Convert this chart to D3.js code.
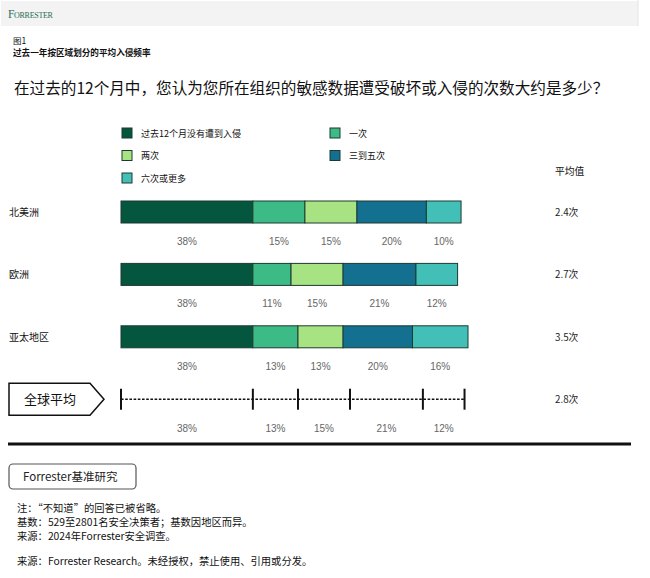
<!DOCTYPE html>
<html><head><meta charset="utf-8">
<script src="https://cdn.jsdelivr.net/npm/d3@7"></script>
<style>
body{margin:0;background:#fff;}
svg{display:block;}
text{font-family:"Noto Sans CJK SC","Noto Sans",sans-serif;}
</style></head>
<body>
<svg id="chart" width="650" height="578"></svg>
<script>
const regions = ["北美洲", "欧洲", "亚太地区", "全球平均"];
const seriesNames = ["过去12个月没有遭到入侵", "一次", "两次", "三到五次", "六次或更多"];
const seriesColors = ["#05563f", "#3dbb86", "#a7e383", "#137091", "#42c0b8"];
const values = [
  [38, 15, 15, 20, 10],
  [38, 11, 15, 21, 12],
  [38, 13, 13, 20, 16],
  [38, 13, 15, 21, 12]
];
const averages = ["2.4次", "2.7次", "3.5次", "2.8次"];
const notes = ["注：“不知道”的回答已被省略。", "基数：529至2801名安全决策者；基数因地区而异。", "来源：2024年Forrester安全调查。"];
const sourceLine = "来源：Forrester Research。未经授权，禁止使用、引用或分发。";

const svg = d3.select("#chart");

// header band
svg.append("rect").attr("x",1).attr("y",1).attr("width",637).attr("height",25).attr("fill","#f3f3f3");
svg.append("line").attr("x1",638).attr("x2",638).attr("y1",0).attr("y2",26).attr("stroke","#e4e4e4");
svg.append("text").attr("x",8).attr("y",17.5)
  .style("font-family","'Liberation Serif',serif").attr("font-size",11.5).attr("fill","#2b6d56")
  .style("font-variant","small-caps").attr("letter-spacing",-0.3).text("Forrester");

svg.append("text").attr("x",13).attr("y",44).attr("font-size",8.5).attr("fill","#111").text("图1");
svg.append("text").attr("x",13).attr("y",56).attr("font-size",8.6).attr("font-weight","bold").attr("fill","#111").text("过去一年按区域划分的平均入侵频率");
svg.append("text").attr("x",14).attr("y",94).attr("font-size",15.6).attr("fill","#111").text("在过去的12个月中，您认为您所在组织的敏感数据遭受破坏或入侵的次数大约是多少？");

// legend
const leg = svg.append("g");
seriesNames.forEach((n,i)=>{
  const col = i%2, row = Math.floor(i/2);
  const lx = col===0 ? 122 : 330, ly = 128 + row*22.5;
  leg.append("rect").attr("x",lx).attr("y",ly).attr("width",10).attr("height",10)
    .attr("fill",seriesColors[i]).attr("stroke","#1d3a30").attr("stroke-width",1);
  leg.append("text").attr("x",lx+19).attr("y",ly+8.5).attr("font-size",9).attr("fill","#111").text(n);
});

// scales
const x = d3.scaleLinear().domain([0,100]).range([121,468]);
const y = d3.scaleLinear().domain([0,1]).range([201,263.4]);
const barH = 22;

svg.append("text").attr("x",555).attr("y",175).attr("font-size",9.8).attr("fill","#111").text("平均值");

regions.forEach((r,ri)=>{
  const top = y(ri);
  const vals = values[ri];
  let cum = 0;
  const segs = vals.map(v=>{const s={x0:cum,x1:cum+v,v:v}; cum+=v; return s;});
  const g = svg.append("g");
  if (ri < 3) {
    g.selectAll("rect").data(segs).join("rect")
      .attr("x",d=>x(d.x0)).attr("y",top).attr("width",d=>x(d.x1)-x(d.x0)).attr("height",barH)
      .attr("fill",(d,i)=>seriesColors[i]).attr("stroke","#1d3a30").attr("stroke-width",1);
    g.append("text").attr("x",9).attr("y",top+barH/2+4).attr("font-size",10).attr("fill","#111").text(r);
  } else {
    const cy = top + barH/2;
    g.append("line").attr("x1",x(0)).attr("x2",x(cum)).attr("y1",cy).attr("y2",cy)
      .attr("stroke","#111").attr("stroke-width",1.4).attr("stroke-dasharray","2.6,1.6");
    const ticks = [0].concat(segs.map(d=>d.x1));
    g.selectAll("line.tk").data(ticks).join("line").attr("class","tk")
      .attr("x1",d=>x(d)).attr("x2",d=>x(d)).attr("y1",cy-10.5).attr("y2",cy+10.5)
      .attr("stroke","#111").attr("stroke-width",2);
    // badge
    g.append("path").attr("d",`M9,${cy-16}L90,${cy-16}L104,${cy}L90,${cy+16}L9,${cy+16}Z`)
      .attr("fill","#fff").attr("stroke","#111").attr("stroke-width",1.5);
    g.append("text").attr("x",24).attr("y",cy+4.5).attr("font-size",13).attr("fill","#111").text(r);
  }
  g.selectAll("text.pct").data(segs).join("text").attr("class","pct")
    .attr("x",d=>x((d.x0+d.x1)/2)).attr("y",top+44).attr("text-anchor","middle")
    .style("font-family","'Liberation Sans',sans-serif").attr("font-size",10).attr("fill","#666")
    .text(d=>d.v+"%");
  g.append("text").attr("x",555).attr("y",top+barH/2+4).attr("font-size",9.8).attr("fill","#222").text(averages[ri]);
});

// thick rule
svg.append("line").attr("x1",8).attr("x2",631).attr("y1",444).attr("y2",444).attr("stroke","#111").attr("stroke-width",3);

// button
svg.append("rect").attr("x",9).attr("y",464).attr("width",127).attr("height",25).attr("rx",4)
  .attr("fill","#fff").attr("stroke","#555").attr("stroke-width",1.2);
svg.append("text").attr("x",23).attr("y",481).attr("font-size",11.5).attr("fill","#222").text("Forrester基准研究");

notes.forEach((n,i)=>{
  svg.append("text").attr("x",17).attr("y",512+i*14).attr("font-size",10.3).attr("fill","#111").text(n);
});
svg.append("text").attr("x",17).attr("y",565).attr("font-size",10.3).attr("fill","#111").text(sourceLine);
</script>
</body></html>
